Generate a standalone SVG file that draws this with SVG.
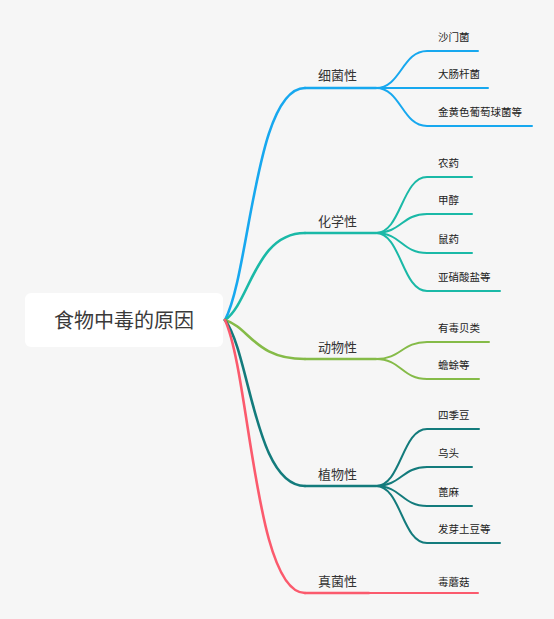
<svg xmlns="http://www.w3.org/2000/svg" width="554" height="619" viewBox="0 0 554 619">
<style>
text{font-family:"Noto Sans CJK SC","Noto Sans",sans-serif}
.root{font-size:20px;fill:#3a3a3a}
.l1{font-size:13px;fill:#333}
.l2{font-size:10.5px;fill:#222}
path,line{fill:none;stroke-linecap:round}
.w1{stroke-width:2.6}
.w2{stroke-width:2}
.b{stroke:#17a8ef}
.t{stroke:#1ab9a7}
.g{stroke:#85bb48}
.d{stroke:#137b7c}
.r{stroke:#fb5a6d}
</style>
<rect width="554" height="619" fill="#f6f6f6"/>
<g id="connectors">
<path class="w1 b" d="M225,320 C250,273 255,88 305,88"/>
<path class="w1 t" d="M225,320 C250,303 255,233 305,233"/>
<path class="w1 g" d="M225,320 C250,328 255,359 305,359"/>
<path class="w1 d" d="M225,320 C250,353 255,486 305,486"/>
<path class="w1 r" d="M225,320 C250,375 255,593 305,593"/>
<path class="w2 b" d="M376,88 C401,88 402,51 427,51 L478,51"/>
<path class="w2 b" d="M376,88 L488,88"/>
<path class="w2 b" d="M376,88 C401,88 402,126 427,126 L532,126"/>
<path class="w2 t" d="M376,233 C401,233 402,177 427,177 L472,177"/>
<path class="w2 t" d="M376,233 C401,233 402,214 427,214 L472,214"/>
<path class="w2 t" d="M376,233 C401,233 402,253 427,253 L472,253"/>
<path class="w2 t" d="M376,233 C401,233 402,291 427,291 L500,291"/>
<path class="w2 g" d="M376,359 C401,359 402,342 427,342 L489,342"/>
<path class="w2 g" d="M376,359 C401,359 402,379 427,379 L479,379"/>
<path class="w2 d" d="M376,486 C401,486 402,429 427,429 L479,429"/>
<path class="w2 d" d="M376,486 C401,486 402,467 427,467 L472,467"/>
<path class="w2 d" d="M376,486 C401,486 402,506 427,506 L472,506"/>
<path class="w2 d" d="M376,486 C401,486 402,543 427,543 L500,543"/>
<path class="w2 r" d="M369,593 L478,593"/>
</g>
<g id="root"><rect x="25" y="293" width="198" height="54" rx="6" fill="#fff"/><text class="root" x="124" y="328" text-anchor="middle">食物中毒的原因</text></g>
<g id="n-bacteria"><line class="w1 b" x1="305" y1="88" x2="376" y2="88"/><text class="l1" x="318" y="80">细菌性</text></g>
<g id="n-chem"><line class="w1 t" x1="305" y1="233" x2="376" y2="233"/><text class="l1" x="318" y="226">化学性</text></g>
<g id="n-animal"><line class="w1 g" x1="305" y1="359" x2="376" y2="359"/><text class="l1" x="318" y="352">动物性</text></g>
<g id="n-plant"><line class="w1 d" x1="305" y1="486" x2="376" y2="486"/><text class="l1" x="318" y="479">植物性</text></g>
<g id="n-fungi"><line class="w1 r" x1="305" y1="593" x2="369" y2="593"/><text class="l1" x="318" y="586">真菌性</text></g>
<g id="c1"><text class="l2" x="438" y="41">沙门菌</text></g>
<g id="c2"><text class="l2" x="438" y="78">大肠杆菌</text></g>
<g id="c3"><text class="l2" x="438" y="116">金黄色葡萄球菌等</text></g>
<g id="c4"><text class="l2" x="438" y="167">农药</text></g>
<g id="c5"><text class="l2" x="438" y="204">甲醇</text></g>
<g id="c6"><text class="l2" x="438" y="243">鼠药</text></g>
<g id="c7"><text class="l2" x="438" y="281">亚硝酸盐等</text></g>
<g id="c8"><text class="l2" x="438" y="332">有毒贝类</text></g>
<g id="c9"><text class="l2" x="438" y="369">蟾蜍等</text></g>
<g id="c10"><text class="l2" x="438" y="419">四季豆</text></g>
<g id="c11"><text class="l2" x="438" y="457">乌头</text></g>
<g id="c12"><text class="l2" x="438" y="496">蓖麻</text></g>
<g id="c13"><text class="l2" x="438" y="533">发芽土豆等</text></g>
<g id="c14"><text class="l2" x="438" y="586">毒蘑菇</text></g>
</svg>
